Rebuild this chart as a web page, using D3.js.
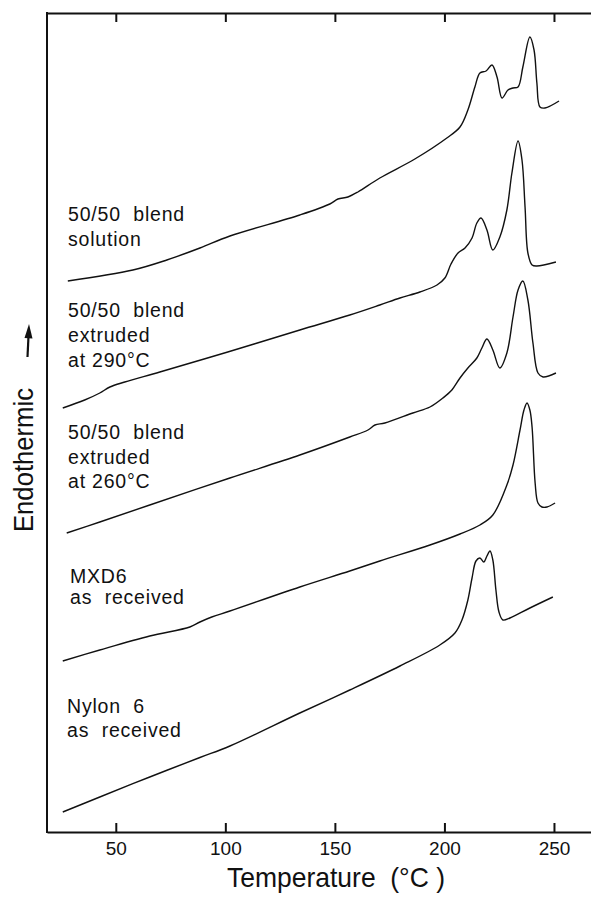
<!DOCTYPE html>
<html>
<head>
<meta charset="utf-8">
<script src="https://cdn.jsdelivr.net/npm/d3@7"></script>
<style>
  body { margin: 0; background: #fff; }
  svg { display: block; }
  text { font-family: "Liberation Sans", Arial, Helvetica, sans-serif; fill: #111; }
</style>
</head>
<body>
<svg id="chart" width="591" height="897"></svg>
<script>
// DSC thermograms: temperature (°C) vs heat flow (arbitrary units, traces offset)
const tempTicks = [50, 100, 150, 200, 250];

const solutionT = [28.1, 57.8, 73.3, 88.4, 102.1, 134.0, 147.7, 151.4, 155.9, 160.5, 170.5, 186.5, 201.1, 207.1, 210.7, 213.9, 216.2, 219.0, 221.7, 224.0, 226.3, 229.0, 231.3, 233.6, 235.8, 239.0, 240.9, 242.2, 243.6, 245.9, 252.3];
const solutionQ = [551, 562, 572, 584, 596, 617, 628, 633, 635, 640, 654, 673, 694, 705, 722, 745, 759, 761, 767, 755, 734, 742, 744, 745, 765, 795, 782, 749, 725, 724, 731];

const ext290T = [25.8, 35.8, 42.7, 47.3, 54.1, 70.1, 101.1, 134.0, 156.8, 170.5, 179.7, 188.8, 196.6, 200.2, 203.0, 206.2, 209.4, 212.6, 214.8, 216.7, 219.4, 222.1, 225.3, 228.5, 230.8, 233.6, 235.4, 236.8, 238.1, 240.0, 242.2, 250.9];
const ext290Q = [424, 432, 439, 445, 450, 460, 480, 502, 517, 527, 534, 540, 547, 554, 568, 579, 584, 594, 609, 614, 602, 582, 595, 622, 659, 691, 672, 625, 579, 567, 566, 570];

const ext260T = [27.6, 42.7, 65.5, 102.1, 134.0, 156.8, 165.1, 168.3, 172.8, 185.6, 193.4, 199.3, 203.4, 207.1, 210.7, 214.8, 217.1, 219.4, 222.1, 225.3, 228.5, 231.3, 233.6, 235.8, 238.1, 240.4, 242.7, 245.0, 250.9];
const ext260Q = [299, 310, 327, 354, 377, 395, 402, 407, 409, 419, 425, 434, 442, 454, 464, 474, 484, 493, 482, 464, 479, 515, 542, 551, 532, 489, 459, 455, 459];

const mxd6T = [25.8, 42.7, 65.5, 83.8, 88.4, 93.8, 102.1, 134.0, 156.8, 170.5, 193.4, 207.1, 216.2, 222.1, 228.5, 231.3, 234.5, 236.3, 237.7, 239.0, 240.0, 241.4, 242.7, 244.5, 246.8, 250.5];
const mxd6Q = [171, 182, 196, 205, 210, 215, 221, 245, 261, 271, 287, 298, 307, 317, 347, 367, 402, 422, 429, 422, 405, 349, 329, 325, 325, 329];

const nylonT = [25.8, 42.7, 65.5, 88.4, 102.1, 134.0, 156.8, 179.7, 197.9, 204.8, 208.0, 210.7, 212.6, 214.4, 216.2, 218.0, 219.4, 220.8, 222.1, 223.5, 224.9, 226.7, 229.9, 239.0, 249.5];
const nylonQ = [20, 35, 55, 74.5, 86, 119, 142, 166, 187, 199, 212, 232, 254, 271, 274, 270, 276, 281, 272, 242, 220, 212, 214, 224, 235];

const traceLabels = [
    ["50/50  blend", "solution"],
    ["50/50  blend", "extruded", "at 290°C"],
    ["50/50  blend", "extruded", "at 260°C"],
    ["MXD6", "as  received"],
    ["Nylon  6", "as  received"]
];

const svg = d3.select('#chart');
const W = 591, H = 897;

const x = d3.scaleLinear().domain([18.6, 266.9]).range([47, W]);
const y = d3.scaleLinear().domain([0, 819]).range([832, 13]);

// frame: bottom axis with inward ticks, plain top edge with ticks, left edge
const bottomAxis = svg.append('g')
    .attr('transform', `translate(0,${y(0)})`)
    .call(d3.axisBottom(x).tickValues(tempTicks).tickSizeInner(-9).tickSizeOuter(0).tickPadding(9.5));
const topAxis = svg.append('g')
    .attr('transform', `translate(0,${y(819)})`)
    .call(d3.axisTop(x).tickValues(tempTicks).tickSizeInner(-9).tickSizeOuter(0).tickFormat(''));
[bottomAxis, topAxis].forEach(g => {
    g.select('.domain').attr('stroke', '#111').attr('stroke-width', 2);
    g.selectAll('.tick line').attr('stroke', '#111').attr('stroke-width', 2);
});
bottomAxis.selectAll('.tick text')
    .attr('font-size', 19)
    .attr('font-family', '"Liberation Sans", Arial, sans-serif')
    .attr('fill', '#111');

svg.append('line')
    .attr('x1', 47).attr('x2', 47)
    .attr('y1', y(819) - 1).attr('y2', y(0) + 1)
    .attr('stroke', '#111').attr('stroke-width', 2);

// traces
const series = [
    [solutionT, solutionQ],
    [ext290T, ext290Q],
    [ext260T, ext260Q],
    [mxd6T, mxd6Q],
    [nylonT, nylonQ]
];
const line = d3.line()
    .x(d => x(d[0]))
    .y(d => y(d[1]))
    .curve(d3.curveCatmullRom.alpha(0.5));

svg.append('g')
    .selectAll('path')
    .data(series.map(([t, q]) => t.map((v, i) => [v, q[i]])))
    .join('path')
    .attr('d', line)
    .attr('fill', 'none')
    .attr('stroke', '#111')
    .attr('stroke-width', 1.4)
    .attr('stroke-linejoin', 'round');

// trace labels (first baseline of each block, line spacing)
const labelPos = [
    { x: 68, y: 221, dy: 24.5 },
    { x: 68, y: 317, dy: 25 },
    { x: 68, y: 439, dy: 24.5 },
    { x: 70, y: 583, dy: 21 },
    { x: 67, y: 713, dy: 23.5 }
];
traceLabels.forEach((lines, i) => {
    const p = labelPos[i];
    const t = svg.append('text')
        .attr('font-size', 19.5)
        .attr('letter-spacing', 0.8)
        .style('white-space', 'pre');
    lines.forEach((s, j) => {
        t.append('tspan').attr('x', p.x).attr('y', p.y + j * p.dy).text(s);
    });
});

// axis titles
svg.append('text')
    .attr('x', 227).attr('y', 887)
    .attr('font-size', 28)
    .attr('textLength', 218)
    .attr('lengthAdjust', 'spacingAndGlyphs')
    .style('white-space', 'pre')
    .text('Temperature  (°C )');

svg.append('text')
    .attr('transform', 'translate(33,532) rotate(-90)')
    .attr('font-size', 27)
    .attr('textLength', 144)
    .attr('lengthAdjust', 'spacingAndGlyphs')
    .text('Endothermic');

// "endothermic up" arrow
svg.append('path')
    .attr('d', 'M27.5,357 L28.6,334')
    .attr('stroke', '#111').attr('stroke-width', 2.2).attr('fill', 'none');
svg.append('path')
    .attr('d', 'M24.5,338 L29,324 L32.5,338.5 Z')
    .attr('fill', '#111');
</script>
</body>
</html>
